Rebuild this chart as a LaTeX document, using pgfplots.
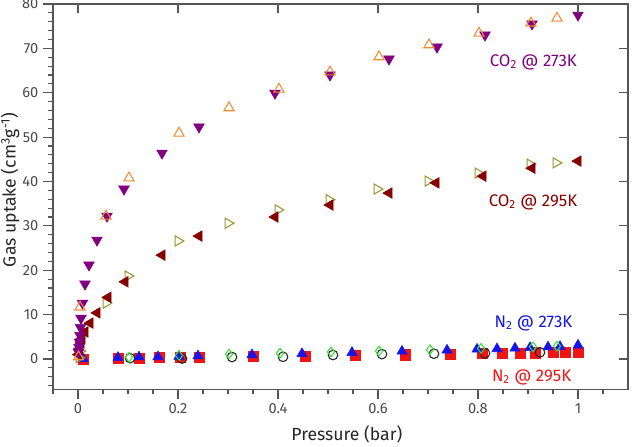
\documentclass[border=0pt]{standalone}
\usepackage{fontspec}
\setmainfont{Fira Sans}
\usepackage{pgfplots}
\pgfplotsset{compat=1.18}

\definecolor{axgray}{RGB}{85,85,85}
\definecolor{labgray}{RGB}{75,75,75}
\definecolor{purp}{RGB}{128,0,128}
\definecolor{orng}{RGB}{240,140,50}
\definecolor{dred}{RGB}{135,0,0}
\definecolor{olv}{RGB}{150,150,50}
\definecolor{nblue}{RGB}{20,20,235}
\definecolor{ngreen}{RGB}{60,220,60}
\definecolor{nred}{RGB}{240,20,20}

\pgfplotsset{
  frame/.style={
    scale only axis, width=431.25pt, height=288.9pt,
    xmin=-0.05, xmax=1.1, ymin=-6.8, ymax=80,
    axis line style={draw=axgray, line width=0.9pt},
    every tick/.style={draw=axgray, line width=0.9pt},
  },
}

\begin{document}
\begin{tikzpicture}
\useasboundingbox (-39.75pt,-42.75pt) rectangle (436.5pt,291.9pt);

% outer ticks on the left and bottom, with labels
\begin{axis}[
  frame,
  xtick={0,0.2,0.4,0.6,0.8,1},
  minor xtick={-0.05,0.05,0.1,0.15,0.25,0.3,0.35,0.45,0.5,0.55,0.65,0.7,0.75,0.85,0.9,0.95,1.05},
  ytick={0,10,...,80},
  minor ytick={-6,-4,...,80},
  xtick pos=left, ytick pos=left,
  tick align=outside,
  major tick length=7.5pt, minor tick length=3.6pt,
  /pgf/number format/assume math mode=true,
  tick label style={font=\fontsize{11}{13}\selectfont, text=labgray},
  xlabel={Pressure (bar)},
  ylabel={Gas uptake (cm\textsuperscript{3}g\textsuperscript{-1})},
  label style={font=\fontsize{13.2}{15}\selectfont, text=black!85},
  xlabel style={at={(axis description cs:0.511,-0.117)}, anchor=center},
  ylabel style={at={(axis description cs:-0.0748,0.517)}, anchor=center},
]

% N2 @ 295 K
\addplot[only marks, mark=square*, mark size=3.8pt, mark options={draw=nred, fill=nred}] coordinates {
 (0.010,0.0) (0.080,0.2) (0.122,0.25) (0.162,0.3) (0.204,0.35) (0.242,0.4)
 (0.350,0.55) (0.454,0.7) (0.554,0.8) (0.654,0.95) (0.744,1.1) (0.808,1.2)
 (0.848,1.25) (0.884,1.35) (0.914,1.4) (0.950,1.5) (0.974,1.55) (1.000,1.6)
};
\addplot[only marks, mark=o, mark size=3.6pt, mark options={draw=black!85, line width=0.8pt}] coordinates {
 (0.104,0.2) (0.208,0.1) (0.308,0.45) (0.410,0.5) (0.510,0.9) (0.608,1.1)
 (0.712,1.2) (0.814,1.3) (0.924,1.5)
};

% N2 @ 273 K
\addplot[only marks, mark=triangle*, mark size=4.4pt, mark options={draw=nblue, fill=nblue}] coordinates {
 (0.010,0.1) (0.080,0.35) (0.122,0.45) (0.160,0.5) (0.202,0.6) (0.240,0.7)
 (0.348,0.95) (0.448,1.2) (0.548,1.45) (0.648,1.75) (0.738,2.0) (0.798,2.2)
 (0.838,2.3) (0.874,2.45) (0.904,2.55) (0.940,2.7) (0.964,2.8) (1.000,3.1)
};
\addplot[only marks, mark=diamond, mark size=3.6pt, mark options={draw=ngreen, line width=0.8pt}] coordinates {
 (0.102,0.4) (0.202,0.8) (0.302,1.1) (0.404,1.3) (0.506,1.6) (0.602,1.8)
 (0.704,2.1) (0.806,2.4) (0.910,2.75) (0.958,2.9)
};

% CO2 @ 295 K
\addplot[only marks, mark=triangle, mark size=4.4pt, mark options={rotate=-90, draw=olv, line width=0.8pt}] coordinates {
 (0.002,0.3) (0.004,1.8) (0.056,12.6) (0.100,18.7) (0.200,26.6) (0.300,30.6)
 (0.400,33.6) (0.502,35.9) (0.598,38.3) (0.700,40.1) (0.800,41.9) (0.904,43.9)
 (0.956,44.2)
};
\addplot[only marks, mark=triangle*, mark size=4.6pt, mark options={rotate=90, draw=dred, fill=dred}] coordinates {
 (0.001,1.0) (0.003,2.3) (0.006,3.6) (0.008,4.6) (0.014,6.1) (0.024,8.1)
 (0.038,10.4) (0.060,13.9) (0.094,17.4) (0.168,23.4) (0.242,27.7) (0.394,32.0)
 (0.504,34.7) (0.622,37.4) (0.716,39.7) (0.810,41.2) (0.908,43.0) (1.000,44.6)
};

% CO2 @ 273 K
\addplot[only marks, mark=triangle*, mark size=4.6pt, mark options={rotate=180, draw=purp, fill=purp}] coordinates {
 (0.001,1.5) (0.002,2.6) (0.003,3.8) (0.004,5.3) (0.005,7.1) (0.006,9.2)
 (0.009,12.6) (0.014,16.9) (0.022,21.2) (0.038,26.8) (0.058,32.2) (0.092,38.3)
 (0.168,46.4) (0.242,52.3) (0.394,59.9) (0.504,64.0) (0.622,67.6) (0.718,70.3)
 (0.814,73.0) (0.908,75.5) (1.000,77.5)
};
\addplot[only marks, mark=triangle, mark size=4.4pt, mark options={draw=orng, line width=0.8pt}] coordinates {
 (0.001,0.5) (0.004,11.7) (0.056,32.2) (0.102,40.8) (0.202,50.9) (0.302,56.6)
 (0.402,60.8) (0.504,64.7) (0.602,68.1) (0.702,70.8) (0.802,73.4) (0.906,75.7)
 (0.958,76.8)
};

\node[anchor=east, text=purp, font=\fontsize{12.6}{14}\selectfont] at (axis cs:1.007,66.9) {CO\textsubscript{2} @ 273K};
\node[anchor=east, text=dred, font=\fontsize{12.6}{14}\selectfont] at (axis cs:1.008,35.4) {CO\textsubscript{2} @ 295K};
\node[anchor=east, text=nblue, font=\fontsize{12.6}{14}\selectfont] at (axis cs:0.998,8.1) {N\textsubscript{2} @ 273K};
\node[anchor=east, text=nred, font=\fontsize{12.6}{14}\selectfont] at (axis cs:0.996,-4.1) {N\textsubscript{2} @ 295K};
\end{axis}

% inner ticks on the top and right
\begin{axis}[
  frame,
  xtick={0,0.2,0.4,0.6,0.8,1},
  ytick={0,10,...,80},
  xtick pos=right, ytick pos=right,
  tick align=inside,
  major tick length=7pt,
  xticklabels={}, yticklabels={},
]
\end{axis}
\end{tikzpicture}
\end{document}
